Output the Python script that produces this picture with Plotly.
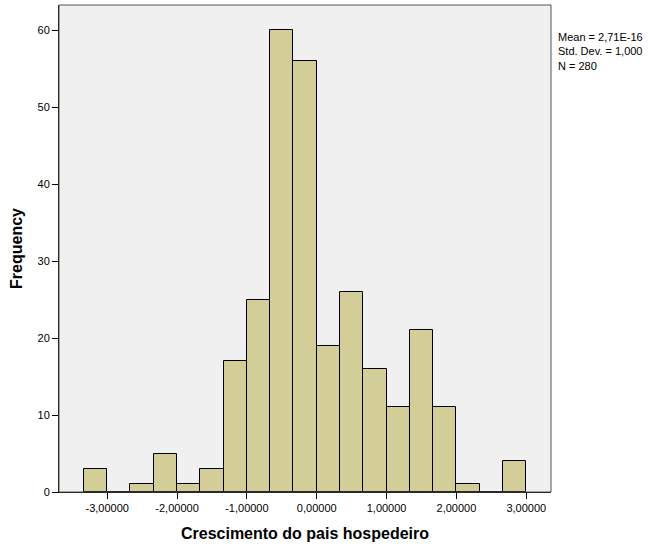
"""
Histogram of standardized host-country growth (SPSS style).
"""
import plotly.graph_objects as go

# bin edges start at -3.333 with width 1/3
bin_width = 1 / 3
bin_start = -10 / 3
counts = [3, 0, 1, 5, 1, 3, 17, 25, 60, 56, 19, 26, 16, 11, 21, 11, 1, 0, 4]
centers = [bin_start + bin_width * (i + 0.5) for i in range(len(counts))]

x_tickvals = [-3, -2, -1, 0, 1, 2, 3]
x_ticktext = ["-3,00000", "-2,00000", "-1,00000", "0,00000", "1,00000", "2,00000", "3,00000"]
y_tickvals = [0, 10, 20, 30, 40, 50, 60]

stats_text = "Mean = 2,71E-16<br>Std. Dev. = 1,000<br>N = 280"

fig = go.Figure()
fig.add_trace(go.Bar(
    x=centers, y=counts,
    width=bin_width,
    marker=dict(color="#D3CE97", line=dict(color="#000000", width=1)),
    hoverinfo="x+y",
))

fig.update_layout(
    width=661, height=554,
    margin=dict(l=59, r=110, t=5, b=62),
    paper_bgcolor="#FFFFFF",
    plot_bgcolor="#F0F0F0",
    font=dict(family="Arial, Liberation Sans, sans-serif", size=11, color="#000000"),
    showlegend=False,
    bargap=0,
    xaxis=dict(
        range=[-3.69, 3.354],
        tickvals=x_tickvals, ticktext=x_ticktext,
        ticks="outside", ticklen=6, tickcolor="#000000",
        showgrid=False, zeroline=False,
        showline=True, linecolor="#000000", linewidth=1,
        title=dict(text="<b>Crescimento do pais hospedeiro</b>",
                   font=dict(size=16), standoff=14),
    ),
    yaxis=dict(
        range=[0, 63.3],
        tickvals=y_tickvals,
        ticks="outside", ticklen=6, tickcolor="#000000",
        showgrid=False, zeroline=False,
        showline=True, linecolor="#000000", linewidth=1,
        title=dict(text="<b>Frequency</b>", font=dict(size=16), standoff=10),
    ),
    shapes=[dict(
        type="rect", xref="paper", yref="paper", x0=0, x1=1, y0=0, y1=1,
        line=dict(color="#555555", width=1), fillcolor="rgba(0,0,0,0)",
        layer="above",
    )],
    annotations=[dict(
        text=stats_text, xref="paper", yref="paper",
        x=1.01, y=0.95, xanchor="left", yanchor="top", align="left",
        showarrow=False, font=dict(size=11),
    )],
)

# drop the default page margin so the figure sits at the window's corner
fig.write_html(
    "out.html",
    config={"displayModeBar": False},
    post_script="document.body.style.margin='0';",
)
